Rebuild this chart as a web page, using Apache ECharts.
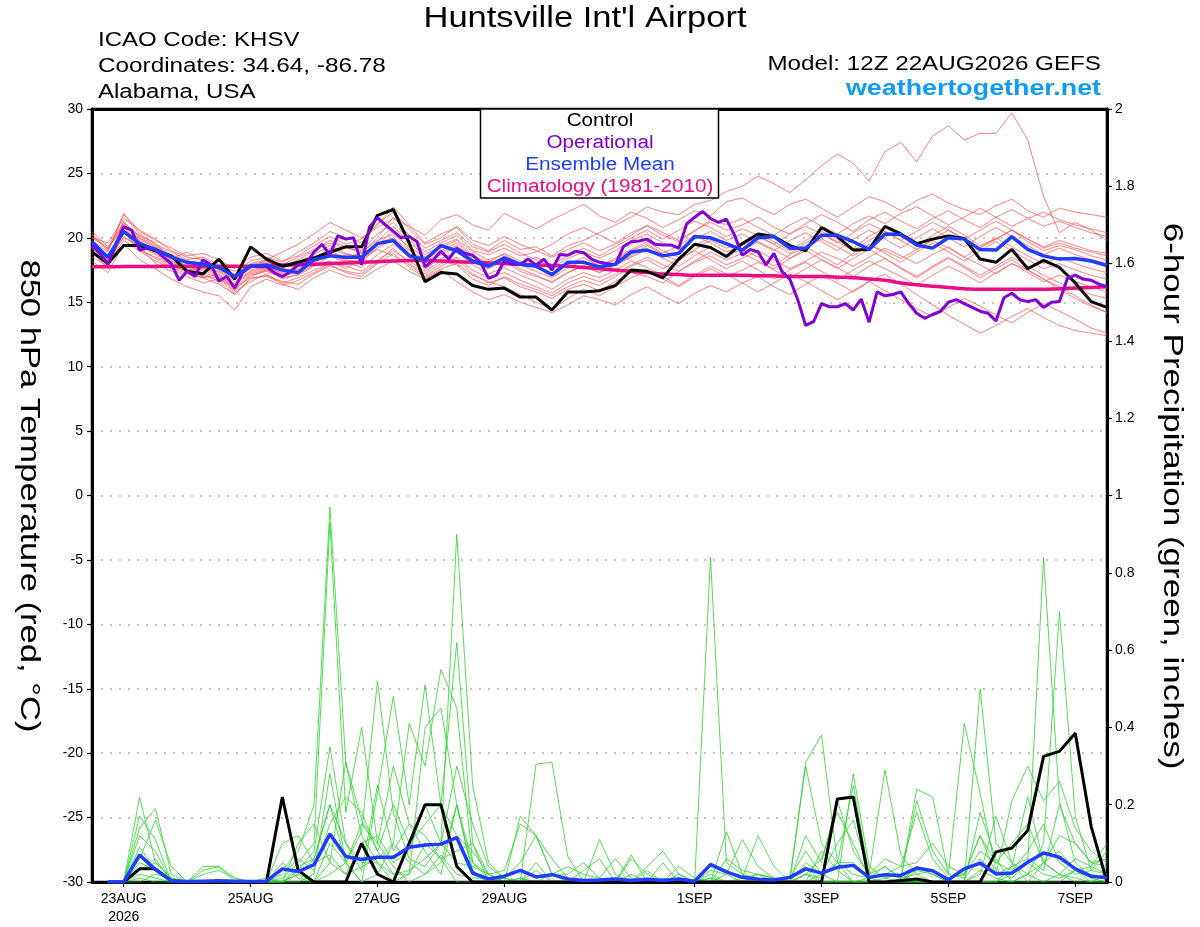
<!DOCTYPE html>
<html>
<head>
<meta charset="utf-8">
<script src="https://cdn.jsdelivr.net/npm/echarts@6/dist/echarts.min.js"></script>
<style>
html,body{margin:0;padding:0;background:#fff;}
#chart{width:1200px;height:927px;}
</style>
</head>
<body>
<div id="chart"></div>
<script>
// ---- time axis (hours after 12Z 22AUG2026) ----
const tickHours = [12, 60, 108, 156, 228, 276, 324, 372];
const tickLabels = ['23AUG\n2026', '25AUG', '27AUG', '29AUG', '1SEP', '3SEP', '5SEP', '7SEP'];
const stepHours = 6;      // ensemble output interval
const opStepHours = 3;    // operational output interval

// ---- 850 hPa temperature (°C) ----
const control = [18.9,18.0,19.4,19.4,19.0,18.6,17.4,17.2,18.35,16.8,
 19.3,18.35,17.8,18.1,18.45,18.9,19.3,19.3,21.75,22.2,
 19.6,16.6,17.3,17.2,16.3,16.0,16.1,15.4,15.4,14.4,
 15.8,15.8,15.9,16.3,17.5,17.4,16.9,18.35,19.5,19.25,
 18.55,19.55,20.3,20.1,19.4,19.0,20.8,20.1,19.05,19.1,
 20.9,20.3,19.55,19.9,20.15,19.95,18.35,18.1,19.1,17.6,
 18.25,17.7,16.5,15.05,14.6];
const ensMean = [19.7,18.5,20.5,19.55,19.1,18.5,18.1,17.95,17.7,17.0,
 17.8,17.9,17.5,17.3,18.3,18.6,18.5,18.5,19.55,19.8,
 18.6,18.3,19.4,19.0,18.2,17.8,18.45,17.95,17.8,17.15,
 18.1,18.1,17.75,17.95,18.9,19.05,18.6,18.8,20.1,20.0,
 19.55,19.05,20.0,20.1,19.2,19.2,20.2,20.2,19.7,19.1,
 20.3,20.25,19.45,19.2,20.0,19.9,19.1,19.05,20.1,19.1,
 18.6,18.35,18.4,18.2,17.85];
const climatology = [17.75,17.76,17.77,17.78,17.78,17.8,17.8,17.8,17.8,17.8,
 17.8,17.85,17.9,17.9,17.95,18.0,18.05,18.1,18.15,18.2,
 18.25,18.25,18.2,18.15,18.1,18.05,18.0,17.95,17.9,17.85,
 17.8,17.7,17.6,17.5,17.4,17.3,17.2,17.15,17.1,17.1,
 17.1,17.1,17.05,17.05,17.0,17.0,17.0,16.95,16.9,16.8,
 16.7,16.5,16.35,16.25,16.15,16.05,16.0,16.0,16.0,16.0,
 16.0,16.05,16.1,16.15,16.2];
const operational = [19.4,18.8,17.95,19.45,20.85,20.6,19.05,19.2,19.1,18.5,
 18.0,16.7,17.4,17.0,18.3,17.9,16.65,17.0,16.1,17.3,
 17.85,17.75,17.75,17.3,17.0,17.35,17.9,18.0,18.9,19.5,
 18.7,20.15,19.9,20.0,17.9,20.85,21.55,21.0,20.5,20.0,
 20.1,19.7,17.75,18.25,18.95,18.35,19.2,18.8,18.65,18.1,
 16.85,17.1,18.2,17.95,17.95,18.35,17.9,18.35,17.5,18.7,
 18.65,18.95,18.85,18.35,18.1,18.0,17.9,19.3,19.7,19.75,
 19.9,19.5,19.45,19.45,19.2,21.1,21.6,22.05,21.5,21.2,
 21.45,20.25,18.65,19.1,18.9,17.9,18.8,17.4,16.8,15.2,
 13.2,13.5,14.9,14.65,14.65,14.9,14.4,15.25,13.45,15.8,
 15.5,15.6,15.8,14.9,14.15,13.75,14.05,14.3,15.0,15.2,
 14.9,14.6,14.3,14.15,13.55,15.35,15.7,15.2,15.05,15.2,
 14.6,15.0,15.05,16.85,17.1,16.8,16.7,16.4,16.2];

const tempMembers = [
 [20.2,19.0,21.9,20.5,19.8,19.2,18.6,18.8,18.3,17.6,18.5,18.8,18.2,18.6,19.4,20.1,19.5,19.9,21.0,22.4,21.0,19.6,20.3,20.8,19.5,19.0,19.8,19.1,19.3,18.6,19.4,19.8,20.4,21.0,21.6,22.4,22.0,21.8,22.6,22.9,23.6,24.0,24.8,24.2,23.5,24.5,25.6,26.5,25.8,24.4,26.7,27.4,25.9,27.9,28.7,27.6,28.1,28.1,29.7,27.6,23.2,20.4,21.2,20.6,19.8],
 [19.5,18.2,21.0,20.2,19.6,18.4,18.9,18.2,17.5,16.8,17.6,18.3,18.9,19.5,20.3,21.2,20.6,20.0,20.8,21.5,20.9,20.2,21.4,21.8,21.0,20.6,21.9,21.3,20.7,21.4,22.0,22.6,21.7,21.2,22.0,21.5,20.8,21.4,22.1,21.7,22.8,23.1,22.4,21.8,22.6,23.0,22.3,21.6,22.4,23.2,22.8,22.1,22.9,23.4,22.7,22.2,21.8,22.5,23.0,22.1,21.6,22.3,22.0,21.8,21.6],
 [18.5,17.8,20.6,19.0,18.5,17.9,17.3,16.9,17.2,16.0,17.0,17.5,16.8,17.2,17.9,18.2,17.6,18.4,19.1,18.6,17.9,17.0,17.8,18.4,17.2,16.5,16.9,16.2,15.8,15.3,16.0,16.4,15.9,16.6,17.3,17.0,16.5,17.4,18.1,18.6,17.9,18.4,19.0,18.3,17.6,18.2,18.9,18.4,17.8,18.5,19.2,18.6,18.0,18.7,19.3,18.5,17.9,17.2,18.0,17.5,16.8,16.2,15.5,14.8,14.2],
 [19.2,18.0,19.8,19.0,18.2,17.6,17.0,16.5,16.8,15.8,16.6,17.2,16.4,16.0,16.9,17.5,17.0,16.8,17.6,18.2,17.4,16.8,17.5,16.6,15.8,15.2,15.6,15.0,14.6,14.2,14.8,15.5,15.2,14.8,15.6,16.2,15.5,14.9,15.7,16.3,15.8,16.5,17.0,16.2,15.6,16.4,17.1,16.5,15.8,16.6,17.2,16.4,15.6,14.8,14.0,13.3,12.6,13.2,13.9,14.5,13.8,13.2,12.8,12.6,12.4],
 [20.5,19.3,21.2,20.1,19.4,18.7,18.2,18.0,17.6,17.2,18.0,18.3,17.9,18.5,19.1,19.6,19.2,19.0,20.3,21.2,19.8,18.9,19.6,20.2,19.0,18.7,19.2,18.6,18.9,19.5,20.3,20.8,20.2,19.6,20.4,20.9,20.2,19.7,20.6,21.2,20.6,21.0,21.6,20.8,20.3,21.1,21.8,21.2,20.5,21.4,22.0,21.3,20.7,21.5,22.1,21.4,20.8,21.6,22.2,21.5,20.9,21.3,20.8,20.4,20.1],
 [19.0,17.6,20.8,19.6,18.8,18.1,17.5,17.7,17.1,16.4,17.3,17.6,17.0,17.4,18.0,18.9,18.3,18.1,19.4,20.6,19.1,18.0,18.7,19.3,18.1,17.6,18.2,17.4,17.0,16.6,17.3,17.9,17.3,17.9,18.6,19.4,18.7,18.2,19.1,19.8,19.2,19.6,20.3,19.7,19.0,19.8,20.5,19.9,19.2,20.1,20.8,20.1,19.4,20.2,20.9,20.2,19.4,19.9,20.6,19.7,19.0,19.4,19.1,18.6,18.3],
 [18.8,18.1,20.1,19.3,18.0,17.4,17.9,17.2,16.6,15.6,16.9,17.0,16.5,16.9,17.5,18.0,17.8,17.4,18.3,19.0,18.2,17.4,18.2,17.9,16.8,16.3,17.0,16.4,16.0,15.5,16.2,16.7,16.3,17.0,17.8,18.3,17.6,18.4,19.0,18.3,17.6,18.2,17.5,16.8,17.5,18.1,17.4,16.7,17.5,18.2,17.6,17.0,16.3,17.1,17.8,17.2,16.5,17.3,18.0,17.3,16.6,17.1,16.6,16.2,15.8],
 [20.0,19.6,21.5,20.6,19.9,19.0,18.5,18.3,17.8,17.4,18.2,18.5,18.1,18.9,19.6,20.5,20.0,19.6,21.1,22.0,20.7,19.5,20.0,20.9,19.8,19.4,20.1,19.5,19.0,18.5,19.1,19.6,19.0,19.5,20.2,21.0,20.4,19.8,20.5,21.4,21.0,21.5,20.8,20.2,21.0,21.6,20.9,20.3,21.1,21.7,21.1,21.9,22.4,21.7,21.0,21.6,22.3,21.6,20.9,21.5,22.0,21.4,21.0,20.7,20.4],
 [19.3,18.4,20.3,19.8,19.0,18.3,17.7,17.5,17.0,16.2,17.5,17.8,17.2,17.6,18.3,19.0,18.4,18.9,19.8,20.3,19.3,18.5,19.2,19.8,18.6,18.1,18.8,18.2,17.7,17.0,17.9,18.5,17.8,18.4,19.1,19.7,19.0,18.5,19.4,20.0,19.4,19.0,19.7,19.1,18.4,19.2,19.9,19.3,18.6,19.4,19.0,18.4,19.1,19.8,19.2,18.5,19.3,20.0,19.3,18.6,18.0,18.5,18.0,17.6,17.3],
 [18.2,17.3,19.5,18.3,17.6,16.8,16.2,15.8,15.5,14.4,16.2,16.8,16.3,16.7,17.3,17.9,17.3,17.0,18.0,18.8,17.7,16.9,17.6,18.0,17.1,16.6,16.2,15.6,15.0,14.5,15.3,16.0,15.5,16.2,16.9,17.4,16.8,16.2,17.0,17.6,17.0,17.5,18.1,17.5,16.9,17.6,18.3,17.7,17.0,17.8,18.4,17.6,16.9,17.7,18.4,17.7,16.9,17.6,18.3,17.5,16.8,16.0,15.3,14.7,14.2],
 [19.8,18.9,21.8,20.3,19.5,18.9,18.3,18.5,17.9,17.1,17.9,18.2,17.6,18.1,18.7,19.4,18.8,18.4,19.7,20.9,19.6,18.7,19.4,19.9,18.9,18.3,18.7,18.0,18.5,17.9,18.6,19.2,18.6,19.3,20.0,20.6,19.9,20.6,21.3,20.8,20.1,20.7,20.2,19.5,20.3,20.9,20.3,19.6,20.4,21.1,20.5,19.8,20.5,21.2,20.6,19.9,20.6,21.3,20.6,19.9,19.3,19.8,19.4,19.0,18.8],
 [19.6,18.6,20.0,19.4,18.7,17.9,17.4,17.0,16.9,15.9,17.1,17.4,16.9,17.1,17.8,18.6,18.1,17.7,18.7,19.5,18.5,17.6,18.4,18.9,17.9,17.2,17.7,17.1,16.6,16.0,16.8,17.3,16.9,17.5,18.2,17.7,17.0,16.3,17.1,17.8,17.2,16.5,15.8,16.5,17.2,16.6,15.9,15.2,15.9,16.6,15.9,15.2,14.5,13.9,14.6,15.3,14.7,14.0,13.4,14.2,14.9,14.3,13.7,13.0,12.6],
 [20.3,19.1,21.1,20.0,19.3,18.6,18.0,17.8,17.3,16.8,17.7,18.1,17.7,18.3,19.0,19.8,19.3,18.8,20.0,21.6,20.2,19.2,19.8,20.4,19.3,18.9,19.5,18.8,18.3,17.7,18.4,18.9,18.4,19.0,19.8,20.3,19.6,19.1,19.9,20.5,19.8,20.3,19.6,19.0,19.8,20.4,19.7,19.0,19.9,20.6,19.9,19.2,20.0,20.7,20.0,19.3,20.1,20.8,20.1,19.4,18.7,19.2,18.7,18.3,18.0],
 [18.9,17.9,20.4,19.2,18.4,17.7,17.2,16.9,16.4,15.6,16.8,17.1,16.6,16.4,17.2,17.8,17.4,17.2,18.1,19.2,18.0,17.2,18.0,18.5,17.5,16.9,17.3,16.7,16.2,15.7,16.5,17.0,16.6,17.2,17.9,18.5,17.9,17.4,18.2,18.9,18.3,18.8,18.2,17.6,18.4,19.0,18.3,17.6,18.4,19.1,18.4,17.7,17.0,17.8,18.5,17.8,17.1,17.8,18.5,17.8,17.1,16.5,16.0,15.6,15.3],
 [20.0,19.2,20.9,19.9,19.2,18.5,17.8,17.6,17.4,16.6,17.4,17.7,17.3,17.8,18.4,19.2,18.7,18.6,19.6,20.0,19.0,18.3,19.0,19.6,18.5,18.0,18.5,17.9,17.4,16.9,17.7,18.2,17.7,18.3,19.0,19.5,18.8,19.4,20.2,19.6,18.9,19.4,20.1,19.5,18.8,19.6,20.3,19.7,19.0,19.8,20.5,19.8,19.1,19.9,20.6,19.9,19.2,19.9,20.6,19.9,19.2,19.6,19.2,18.9,18.6],
 [19.4,18.3,21.3,19.7,18.9,18.2,17.6,17.3,16.9,16.1,17.2,17.5,17.0,17.5,18.1,18.8,18.2,18.2,19.2,19.9,18.8,18.1,18.9,19.4,18.3,17.7,18.3,17.6,17.1,16.5,17.3,17.8,17.3,17.9,18.5,19.1,18.4,17.8,18.6,19.3,18.6,19.1,18.5,17.8,18.7,19.3,18.6,17.9,18.8,19.5,18.8,18.1,18.9,19.6,18.9,18.2,19.0,19.7,19.0,18.3,17.6,18.0,17.5,17.1,16.8]
];

// ---- 6-hour precipitation (inches) ----
const controlPrecip = [null,0,0,0.034,0.034,0.003,0,0,0,0,
 0,0,0.22,0.03,0,0,0,0.10,0.02,0,
 0.10,0.20,0.20,0.04,0,0,0,0,0,0,
 0,0,0,0,0,0,0,0,0,0,
 0,0,0,0,0,0,0,0.215,0.22,0,
 0,0.004,0.008,0,0,0,0,0.078,0.088,0.133,
 0.325,0.338,0.385,0.144,0];
const meanPrecip = [null,0,0,0.07,0.032,0.003,0.001,0.002,0.003,0.002,
 0.001,0.002,0.034,0.027,0.045,0.124,0.066,0.058,0.064,0.064,
 0.09,0.096,0.098,0.115,0.023,0.008,0.015,0.03,0.013,0.019,
 0.008,0.004,0.005,0.008,0.004,0.007,0.004,0.008,0.002,0.045,
 0.026,0.012,0.007,0.005,0.012,0.034,0.023,0.038,0.043,0.012,
 0.019,0.017,0.036,0.029,0.006,0.034,0.049,0.021,0.023,0.051,
 0.075,0.064,0.034,0.015,0.011];
const precipMembers = [
 [null,0,0,0.22,0.05,0.01,0,0,0,0, 0,0,0.03,0.08,0.2,0.97,0.31,0.12,0.05,0, 0.02,0.1,0.06,0,0,0,0,0.01,0,0, 0,0,0,0,0,0,0.01,0,0,0.02, 0,0,0,0,0,0.05,0.02,0,0,0, 0,0,0,0,0,0,0,0,0.02,0.05, 0.84,0.21,0.05,0.01,0],
 [null,0,0,0.17,0.11,0,0,0,0,0, 0,0,0.01,0.05,0.1,0.93,0.18,0.4,0.1,0.04, 0,0.02,0.05,0.2,0.02,0,0,0,0,0, 0,0,0,0,0,0,0,0,0,0, 0.13,0.02,0,0,0,0,0.08,0.03,0,0, 0,0,0.04,0.02,0,0,0.18,0.06,0,0.02, 0.1,0.7,0.17,0.03,0.02],
 [null,0,0,0.14,0.19,0.02,0,0,0,0, 0,0,0,0.02,0.06,0.2,0.05,0.13,0.52,0.18, 0.06,0.04,0.1,0.9,0.25,0.05,0.01,0,0,0, 0,0,0.11,0.02,0,0,0,0,0,0.01, 0,0,0.02,0.01,0,0,0,0,0,0, 0.01,0.02,0,0,0,0,0.02,0.17,0.05,0, 0.05,0.02,0.01,0,0],
 [null,0,0,0.12,0.08,0,0,0.03,0.04,0, 0,0,0,0,0.02,0.28,0.05,0,0.23,0.48, 0.2,0.51,0.2,0.62,0.1,0.02,0,0,0,0, 0,0,0,0,0.06,0.02,0,0,0,0, 0,0,0,0,0,0.31,0.38,0.05,0,0, 0,0,0,0,0,0,0,0,0,0, 0,0,0.03,0,0],
 [null,0,0,0.09,0.03,0,0,0.02,0.03,0.01, 0,0,0.1,0.12,0.05,0.07,0.02,0.04,0.06,0.1, 0.41,0.3,0.55,0.45,0.05,0.02,0,0.17,0.12,0.02, 0,0,0,0,0,0,0.05,0,0,0.01, 0,0,0,0,0.01,0.04,0,0,0.28,0.04, 0.01,0,0,0,0,0,0.5,0.1,0.05,0.02, 0,0.02,0.06,0.04,0.1],
 [null,0,0,0.06,0.16,0.04,0,0,0,0, 0,0.01,0,0.1,0.15,0.05,0.31,0.16,0.08,0.02, 0.02,0.4,0.45,0.2,0.03,0,0.01,0,0.305,0.31, 0.066,0,0,0,0,0,0,0,0,0, 0.02,0,0,0,0.01,0.08,0.02,0.1,0.16,0.02, 0.29,0.07,0.02,0,0,0,0,0,0.04,0.22, 0.05,0.02,0,0,0.02],
 [null,0,0,0.03,0.05,0.01,0,0,0,0, 0,0,0,0.04,0.06,0.2,0.1,0.03,0.25,0.08, 0.15,0.12,0.06,0.08,0.1,0,0,0,0.05,0, 0,0,0,0,0,0.04,0.08,0.02,0,0.05, 0.03,0.01,0.12,0.04,0,0.02,0.06,0.18,0.1,0.01, 0.04,0.01,0.24,0.22,0.02,0.01,0.06,0.02,0.21,0.3, 0.21,0.26,0.14,0.08,0.05],
 [null,0,0,0.05,0.03,0,0,0,0,0, 0,0,0.05,0.01,0,0.05,0.02,0.1,0.12,0.05, 0.08,0.2,0.1,0.05,0.04,0.02,0.03,0.15,0.12,0.02, 0.02,0.05,0.01,0.06,0.01,0,0,0,0,0, 0,0,0,0,0,0.02,0,0,0,0.01, 0.02,0.01,0.21,0.08,0.02,0.41,0.23,0.03,0.01,0.05, 0.02,0.01,0.03,0.04,0.02],
 [null,0,0,0.02,0.01,0,0,0,0,0, 0,0,0,0,0,0.02,0.05,0,0.02,0.1, 0.05,0.02,0.07,0.02,0.01,0.01,0,0,0,0, 0,0.03,0.06,0,0.07,0,0,0.02,0,0, 0.06,0.03,0.02,0.01,0.01,0.3,0.1,0.05,0.25,0.02, 0.06,0.04,0.18,0.06,0.01,0.02,0.08,0.05,0.1,0.15, 0.05,0.12,0.1,0.05,0.04],
 [null,0,0,0,0.02,0.01,0,0,0,0, 0,0,0,0.02,0,0.1,0.05,0.15,0.1,0.3, 0.15,0.08,0.02,0.2,0.05,0.01,0,0,0.03,0, 0,0,0,0,0,0.03,0,0.04,0.01,0, 0,0.01,0.02,0,0,0.02,0.01,0.05,0.05,0.01, 0.02,0.04,0.05,0.1,0.04,0.02,0.12,0.05,0.03,0.08, 0.15,0.05,0.02,0.03,0.08],
 [null,0,0,0.03,0.06,0,0,0,0,0, 0,0,0,0.03,0.08,0.35,0.1,0.05,0.05,0.02, 0.03,0.06,0.1,0.3,0.15,0.04,0.01,0.05,0.12,0.06, 0.01,0,0,0,0,0,0,0,0,0.84, 0.05,0.02,0.01,0,0,0,0.02,0.05,0.02,0.01, 0,0,0.03,0.02,0,0,0.03,0.01,0,0.02, 0.05,0.08,0.03,0.01,0.02],
 [null,0,0,0.01,0,0,0,0.04,0.04,0.01, 0,0,0.02,0.06,0.03,0.15,0.22,0.18,0.08,0.2, 0.1,0.15,0.2,0.12,0.08,0.02,0,0.01,0,0.02, 0.04,0.02,0.01,0,0.02,0,0,0.01,0,0.03, 0.02,0.11,0.04,0.01,0,0.12,0.05,0.21,0.08,0.02, 0.04,0.01,0.02,0.03,0.01,0.02,0.12,0.02,0.04,0.06, 0.03,0.2,0.1,0.05,0.06]
];

// ---- colours ----
const C_CONTROL = '#000000';
const C_OPER = '#8200d8';
const C_MEAN = '#1f3cff';
const C_CLIM = '#ec0c84';
const C_RED = 'rgba(255,70,70,0.85)';
const C_GREEN = '#2ad42a';
const FONT = '"Liberation Sans", Arial, Helvetica, sans-serif';

function pairs(arr, dh) { return arr.map((v, i) => [i * dh, v]); }

const series = [];
tempMembers.forEach((m, k) => series.push({
  name: 'T member ' + (k + 1), type: 'line', yAxisIndex: 0, data: pairs(m, stepHours),
  symbol: 'none', lineStyle: { color: C_RED, width: 0.8 }, z: 1, silent: true
}));
precipMembers.forEach((m, k) => series.push({
  name: 'P member ' + (k + 1), type: 'line', yAxisIndex: 1, data: pairs(m, stepHours),
  symbol: 'none', lineStyle: { color: C_GREEN, width: 0.8 }, z: 1, silent: true
}));
series.push({ name: 'Climatology', type: 'line', yAxisIndex: 0, data: pairs(climatology, stepHours),
  symbol: 'none', smooth: true, lineStyle: { color: C_CLIM, width: 3.5 }, z: 3 });
series.push({ name: 'Control', type: 'line', yAxisIndex: 0, data: pairs(control, stepHours),
  symbol: 'none', lineStyle: { color: C_CONTROL, width: 3 }, z: 4 });
series.push({ name: 'Control precip', type: 'line', yAxisIndex: 1, data: pairs(controlPrecip, stepHours),
  symbol: 'none', lineStyle: { color: C_CONTROL, width: 3 }, z: 4 });
series.push({ name: 'Operational', type: 'line', yAxisIndex: 0, data: pairs(operational, opStepHours),
  symbol: 'none', lineStyle: { color: C_OPER, width: 3 }, z: 5 });
series.push({ name: 'Ensemble Mean', type: 'line', yAxisIndex: 0, data: pairs(ensMean, stepHours),
  symbol: 'none', lineStyle: { color: C_MEAN, width: 3.5 }, z: 6 });
series.push({ name: 'Mean precip', type: 'line', yAxisIndex: 1, data: pairs(meanPrecip, stepHours),
  symbol: 'none', lineStyle: { color: C_MEAN, width: 3.5 }, z: 6 });

const legendItems = [
  ['Control', C_CONTROL], ['Operational', C_OPER], ['Ensemble Mean', C_MEAN], ['Climatology (1981-2010)', C_CLIM]
];

function txt(text, x, y, size, align, fill, sx, extra) {
  return Object.assign({
    type: 'text', x: x, y: y, scaleX: sx, originX: 0, originY: 0,
    style: { text: text, font: size, fill: fill, textAlign: align, textVerticalAlign: 'middle' }
  }, extra || {});
}

const graphic = [
  txt("Huntsville Int'l Airport", 585, 19, '29px ' + FONT, 'center', '#000', 1.19),
  txt('ICAO Code: KHSV', 98, 40, '20px ' + FONT, 'left', '#000', 1.2),
  txt('Coordinates: 34.64, -86.78', 98, 66, '20px ' + FONT, 'left', '#000', 1.215),
  txt('Alabama, USA', 98, 92, '20px ' + FONT, 'left', '#000', 1.2),
  txt('Model: 12Z 22AUG2026 GEFS', 1101, 64, '20px ' + FONT, 'right', '#000', 1.21),
  txt('weathertogether.net', 1101, 89, 'bold 22px ' + FONT, 'right', '#109cf5', 1.22),
  txt('850 hPa Temperature (red, °C)', 29, 496, '28px ' + FONT, 'center', '#000', 1.235, { rotation: -Math.PI / 2 }),
  txt('6-hour Precipitation (green, inches)', 1172, 496, '28px ' + FONT, 'center', '#000', 1.25, { rotation: -Math.PI / 2 }),
  { type: 'rect', shape: { x: 480.5, y: 109, width: 238, height: 89 }, style: { fill: '#fff', stroke: '#000', lineWidth: 1.5 }, z: 50 }
];
legendItems.forEach((it, i) => graphic.push(
  txt(it[0], 600, 121 + i * 22, '18px ' + FONT, 'center', it[1], 1.15, { z: 51 })
));

const chart = echarts.init(document.getElementById('chart'), null, { renderer: 'canvas' });
chart.setOption({
  animation: false,
  backgroundColor: '#fff',
  textStyle: { fontFamily: FONT },
  grid: { left: 92, right: 93, top: 109, bottom: 45, show: true, borderColor: '#000', borderWidth: 2.5, backgroundColor: 'transparent' },
  xAxis: [{
    type: 'value', min: 0, max: 384, position: 'bottom',
    axisLine: { onZero: false, lineStyle: { color: '#000', width: 3 } },
    axisTick: { customValues: tickHours, length: 5, lineStyle: { color: '#000', width: 1.2 } },
    axisLabel: {
      customValues: tickHours, color: '#000', fontSize: 14, margin: 8, lineHeight: 18,
      formatter: v => { const i = tickHours.indexOf(v); return i >= 0 ? tickLabels[i] : ''; }
    },
    splitLine: { show: false }
  }, {
    type: 'value', min: 0, max: 384, position: 'top',
    axisLine: { onZero: false, lineStyle: { color: '#000', width: 3 } },
    axisTick: { show: false }, axisLabel: { show: false }, splitLine: { show: false }
  }],
  yAxis: [
    {
      type: 'value', min: -30, max: 30, interval: 5, position: 'left',
      axisLine: { show: true, onZero: false, lineStyle: { color: '#000', width: 3 } },
      axisTick: { show: true, length: 5, lineStyle: { color: '#000', width: 1.2 } },
      axisLabel: { color: '#000', fontSize: 14, margin: 9 },
      splitLine: { show: true, showMinLine: false, showMaxLine: false, lineStyle: { color: '#b0b0b0', type: [2, 7], width: 1.5 } }
    },
    {
      type: 'value', min: 0, max: 2, interval: 0.2, position: 'right',
      axisLine: { show: true, onZero: false, lineStyle: { color: '#000', width: 3 } },
      axisTick: { show: true, length: 5, lineStyle: { color: '#000', width: 1.2 } },
      axisLabel: { color: '#000', fontSize: 14, margin: 8, formatter: v => String(Math.round(v * 10) / 10) },
      splitLine: { show: false }
    }
  ],
  graphic: graphic,
  series: series
});
</script>
</body>
</html>
